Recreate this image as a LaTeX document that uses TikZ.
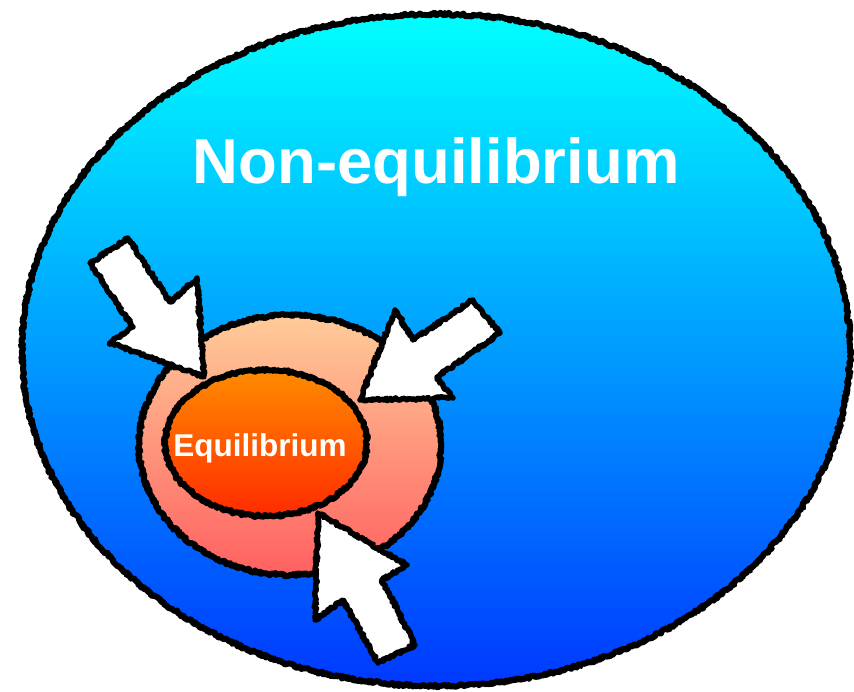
\documentclass[tikz,border=0pt]{standalone}
\usepackage{fontspec}
\setmainfont{Liberation Sans}
\usetikzlibrary{shapes.geometric,decorations.pathmorphing}
\definecolor{NeqTop}    {HTML}{00FFFF}
\definecolor{NeqBottom} {HTML}{0038FF}
\definecolor{HaloTop}   {HTML}{FFCC99}
\definecolor{HaloBottom}{HTML}{FF6060}
\definecolor{EqTop}     {HTML}{FF8C00}
\definecolor{EqBottom}  {HTML}{FF2A00}
\tikzset{
  roughborder/.style={draw=black,line width=6pt,line join=round,decorate,
    decoration={random steps,segment length=1.5pt,amplitude=1.4pt}},
  pushblock/.style={roughborder,line width=5.5pt,fill=white},
  bigword/.style={text=white,font=\bfseries\fontsize{63.5}{70}\selectfont,anchor=base},
  smallword/.style={text=white,font=\bfseries\fontsize{31.5}{36}\selectfont,anchor=base}
}

\begin{document}
\begin{tikzpicture}[x=1pt,y=-1pt]
    \useasboundingbox (0,0) rectangle (854,691);
    % regions
    \node[ellipse,roughborder,minimum width=828pt,minimum height=672pt,
          top color=NeqTop,bottom color=NeqBottom] (noneq) at (436,350) {};
    \node[ellipse,roughborder,minimum width=302pt,minimum height=260pt,
          top color=HaloTop,bottom color=HaloBottom] (halo) at (290,445) {};
    \node[ellipse,roughborder,minimum width=202pt,minimum height=146pt,
          top color=EqTop,bottom color=EqBottom] (eq) at (266,443) {};
    % inward arrows
    \draw[pushblock] (90,263) -- (128,238) -- (170,302) -- (197,278)
        -- (204,377) -- (110,343) -- (133,327) -- cycle;
    \draw[pushblock] (473,300) -- (500,333) -- (437,377) -- (453,398)
        -- (360,400) -- (395,310) -- (413,340) -- cycle;
    \draw[pushblock] (415,645) -- (378,663) -- (343,600) -- (315,620)
        -- (318,513) -- (407,565) -- (382,580) -- cycle;
    % labels
    \node[bigword] (noneqlabel) at (436,183) {Non-equilibrium};
    \node[smallword] (eqlabel) at (260,456) {Equilibrium};
  \end{tikzpicture}
\end{document}
